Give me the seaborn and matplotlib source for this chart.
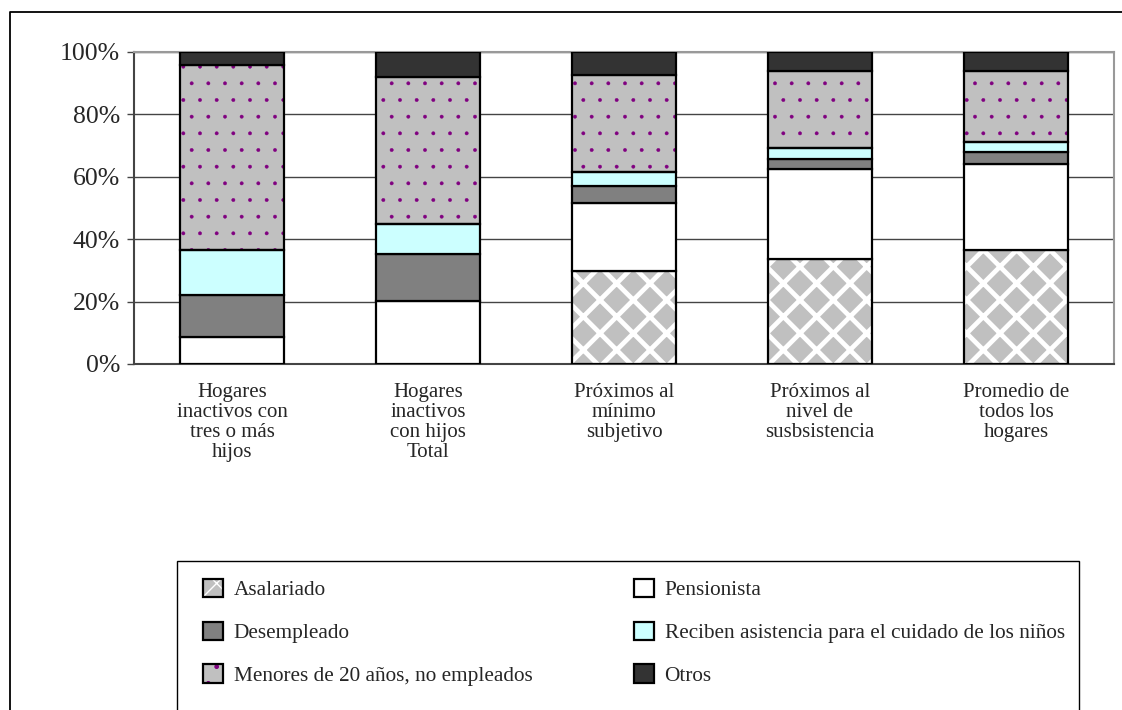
import numpy as np
import pandas as pd
import matplotlib
matplotlib.use("Agg")
import matplotlib.pyplot as plt
from matplotlib.patches import Patch, Rectangle
from matplotlib.lines import Line2D
from matplotlib.legend_handler import HandlerTuple
import seaborn as sns

sns.set_style("white")
plt.rcParams['font.family'] = ['Liberation Serif', 'DejaVu Serif']

# categorias del eje x
categorias = ["Hogares\ninactivos con\ntres o más\nhijos",
              "Hogares\ninactivos\ncon hijos\nTotal",
              "Próximos al\nmínimo\nsubjetivo",
              "Próximos al\nnivel de\nsusbsistencia",
              "Promedio de\ntodos los\nhogares"]

# porcentajes por grupo (de abajo hacia arriba)
asalariado = [0.0, 0.0, 29.9, 33.7, 36.6]
pensionista = [8.8, 20.2, 21.7, 28.9, 27.6]
desempleado = [13.3, 15.0, 5.3, 3.2, 3.6]
asistencia = [14.3, 9.7, 4.6, 3.3, 3.3]
menores = [59.5, 47.0, 31.1, 24.7, 22.7]
otros = [4.1, 8.1, 7.4, 6.2, 6.2]

series = ["Asalariado", "Pensionista", "Desempleado",
          "Reciben asistencia para el cuidado de los niños",
          "Menores de 20 años, no empleados", "Otros"]
valores = [asalariado, pensionista, desempleado, asistencia, menores, otros]

# estilo de cada serie: relleno, hatch, color del hatch, grosor del hatch
estilos = {
    "Asalariado": ("#C0C0C0", "x", "white", 3.4),
    "Pensionista": ("white", None, None, 1.0),
    "Desempleado": ("#808080", None, None, 1.0),
    "Reciben asistencia para el cuidado de los niños": ("#CCFFFF", None, None, 1.0),
    "Menores de 20 años, no empleados": ("#C0C0C0", ".", "#800080", 0.3),
    "Otros": ("#333333", None, None, 1.0),
}

df = pd.DataFrame({"categoria": categorias})
for s, v in zip(series, valores):
    df[s] = v

fig = plt.figure(figsize=(11.22, 7.10), dpi=100)
ax = fig.add_axes([134 / 1122, 1 - 364 / 710, 980 / 1122, 312 / 710])

ancho = 0.53
abajo = np.zeros(len(categorias))
for s in series:
    fc, hatch, hc, hlw = estilos[s]
    with plt.rc_context({"hatch.linewidth": hlw}):
        if hatch:
            sns.barplot(data=df, x="categoria", y=s, bottom=abajo, width=ancho,
                        color=fc, hatch=hatch, edgecolor=hc, linewidth=0,
                        saturation=1, ax=ax, zorder=3)
            for p in ax.patches[-len(categorias):]:
                if hasattr(p, "set_hatch_linewidth"):
                    p.set_hatch_linewidth(hlw)
        sns.barplot(data=df, x="categoria", y=s, bottom=abajo, width=ancho,
                    fill=(hatch is None), color=fc, edgecolor="black",
                    linewidth=1.6, saturation=1, ax=ax, zorder=4)
    abajo = abajo + df[s].values

ax.set_xlim(-0.5, 4.5)
ax.set_ylim(0, 100)
ax.set_yticks([0, 20, 40, 60, 80, 100])
ax.set_yticklabels(["0%", "20%", "40%", "60%", "80%", "100%"], fontsize=18.5)
ax.set_xticks(range(len(categorias)))
ax.set_xticklabels(categorias, fontsize=15, linespacing=1.05, va="top")
ax.set_xlabel("")
ax.set_ylabel("")
ax.tick_params(axis="x", length=0, pad=14)
ax.tick_params(axis="y", length=5, width=1, pad=5, direction="out", left=True,
               color="#444444")
ax.grid(axis="y", color="#444444", linewidth=1, zorder=0)
ax.set_axisbelow(True)
for lado in ["top", "right"]:
    ax.spines[lado].set_color("#999999")
    ax.spines[lado].set_linewidth(1.5)
for lado in ["left", "bottom"]:
    ax.spines[lado].set_color("#444444")
    ax.spines[lado].set_linewidth(1.5)

# borde exterior del grafico
fig.add_artist(Line2D([10 / 1122, 10 / 1122, 1.0], [0.0, 1 - 12 / 710, 1 - 12 / 710],
                      transform=fig.transFigure, color="black", linewidth=1.3))

# caja de la leyenda
fig.add_artist(Rectangle((177 / 1122, -0.05), (1079 - 177) / 1122, 0.05 + 1 - 561 / 710,
                         transform=fig.transFigure, facecolor="white",
                         edgecolor="black", linewidth=1.0))

handles = []
for s in series:
    fc, hatch, hc, hlw = estilos[s]
    if hatch:
        with plt.rc_context({"hatch.linewidth": hlw}):
            h1 = Patch(facecolor=fc, hatch=hatch, edgecolor=hc, linewidth=0)
            if hasattr(h1, "set_hatch_linewidth"):
                h1.set_hatch_linewidth(hlw)
        h2 = Patch(facecolor="none", edgecolor="black", linewidth=1.6)
        handles.append((h1, h2))
    else:
        handles.append(Patch(facecolor=fc, edgecolor="black", linewidth=1.6))

orden = [0, 2, 4, 1, 3, 5]
fig.legend([handles[i] for i in orden], [series[i] for i in orden],
           handler_map={tuple: HandlerTuple(ndivide=1, pad=0)},
           loc="upper left", bbox_to_anchor=(203 / 1122, 1 - 579 / 710),
           ncol=2, frameon=False, fontsize=15.3, handlelength=0.95,
           handleheight=0.95, handletextpad=0.5, columnspacing=4.76,
           labelspacing=1.0, borderaxespad=0, borderpad=0)

fig.savefig("out.png", dpi=100)
